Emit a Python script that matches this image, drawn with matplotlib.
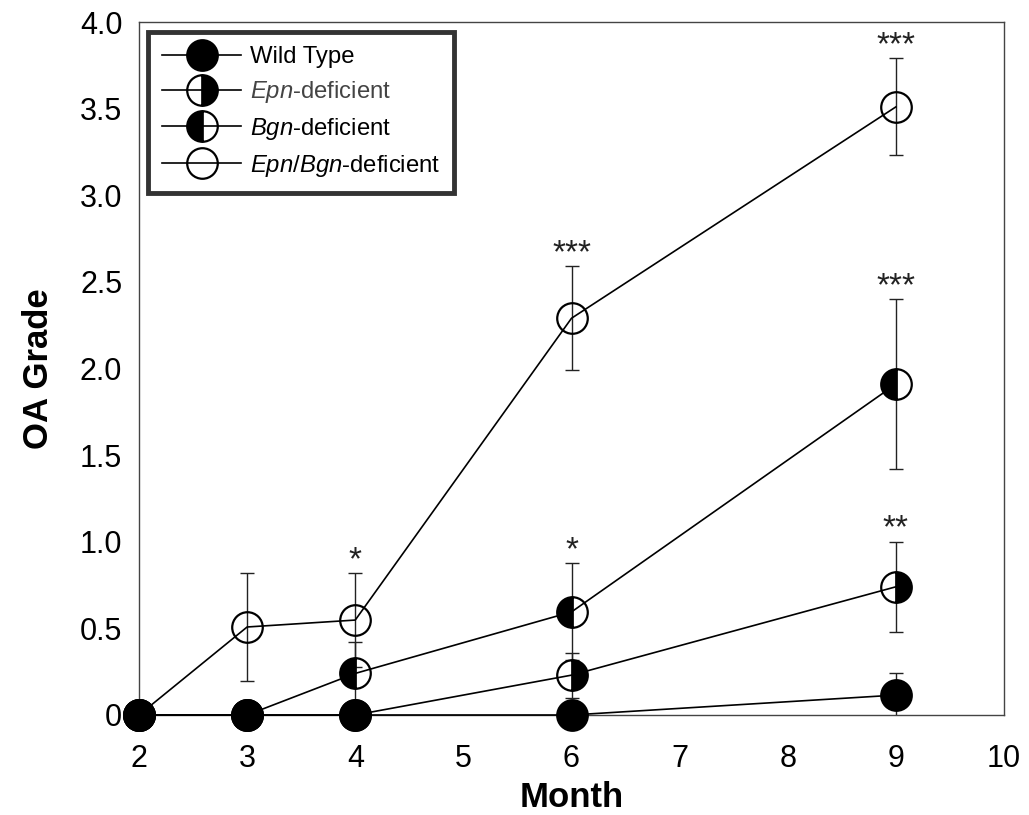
import matplotlib
matplotlib.use("Agg")
import matplotlib.pyplot as plt

plt.rcParams['font.family'] = ['Liberation Sans', 'DejaVu Sans']
plt.rcParams['mathtext.fontset'] = 'custom'
plt.rcParams['mathtext.rm'] = 'Liberation Sans'
plt.rcParams['mathtext.it'] = 'Liberation Sans:italic'

# data
months = [2, 3, 4, 6, 9]

wt = [0, 0, 0, 0, 0.115]
wt_err = [0, 0, 0, 0, 0.13]

epn = [0, 0, 0, 0.23, 0.74]
epn_err = [0, 0, 0, 0.13, 0.26]

bgn = [0, 0, 0.24, 0.595, 1.91]
bgn_err = [0, 0, 0.18, 0.28, 0.49]

epn_bgn = [0, 0.508, 0.548, 2.29, 3.51]
epn_bgn_err = [0, 0.31, 0.27, 0.30, 0.28]

# significance marks: month, value of error bar top, label
sig_x = [4, 6, 6, 9, 9, 9]
sig_y = [0.818, 2.59, 0.875, 3.79, 2.40, 1.00]
sig_text = ['*', '***', '*', '***', '***', '**']

yticks = [0, 0.5, 1.0, 1.5, 2.0, 2.5, 3.0, 3.5, 4.0]
ytick_labels = ['0', '0.5', '1.0', '1.5', '2.0', '2.5', '3.0', '3.5', '4.0']
xticks = [2, 3, 4, 5, 6, 7, 8, 9, 10]

fig = plt.figure(figsize=(10.29, 8.15), dpi=100)
ax = fig.add_axes([139 / 1029, 1 - 715 / 815, (1004 - 139) / 1029, (715 - 22) / 815])

ms = 22
mew = 1.6
lw = 1.2

series = [
    (wt, wt_err, 'full', 'Wild Type', 'black'),
    (epn, epn_err, 'right', r'$\mathit{Epn}$-deficient', '#444444'),
    (bgn, bgn_err, 'left', r'$\mathit{Bgn}$-deficient', 'black'),
    (epn_bgn, epn_bgn_err, 'none', r'$\mathit{Epn/Bgn}$-deficient', 'black'),
]

handles = []
for vals, errs, fs, label, tcol in series:
    ax.errorbar(months, vals, yerr=errs, fmt='none', ecolor='#222222',
                elinewidth=1.0, capsize=5, capthick=1.0, zorder=2)
    face = 'black' if fs != 'none' else 'none'
    h, = ax.plot(months, vals, color='black', linewidth=lw, marker='o',
                 markersize=ms, markeredgewidth=mew, markeredgecolor='black',
                 markerfacecolor=face, markerfacecoloralt='none',
                 fillstyle=fs if fs != 'none' else 'full',
                 label=label, zorder=3, clip_on=False)
    handles.append(h)

for x, y, t in zip(sig_x, sig_y, sig_text):
    ax.annotate(t, (x, y), xytext=(0, 3), textcoords='offset points',
                ha='center', va='baseline', fontsize=24, color='#222222')

ax.set_xlim(2, 10)
ax.set_ylim(0, 4.0)
ax.set_xticks(xticks)
ax.set_yticks(yticks)
ax.set_yticklabels(ytick_labels)
ax.tick_params(axis='both', length=0, labelsize=22)
ax.tick_params(axis='x', pad=21)
ax.tick_params(axis='y', pad=12)

for sp in ax.spines.values():
    sp.set_color('#444444')
    sp.set_linewidth(1.0)

ax.set_xlabel('Month', fontsize=25, fontweight='bold', labelpad=5)
ax.set_ylabel('OA Grade', fontsize=25, fontweight='bold', labelpad=18)

leg = ax.legend(handles=handles, loc='upper left',
                bbox_to_anchor=((148 - 139) / 865, 1 - (32 - 22) / 693),
                borderaxespad=0, fontsize=17.2, frameon=True, fancybox=False,
                edgecolor='black', handlelength=3.3, handletextpad=0.35,
                labelspacing=0.45, borderpad=0.6, markerscale=1.0)
leg.get_frame().set_linewidth(3.5)
for txt, (_, _, _, _, tcol) in zip(leg.get_texts(), series):
    txt.set_color(tcol)

fig.savefig('out.png', dpi=100)
